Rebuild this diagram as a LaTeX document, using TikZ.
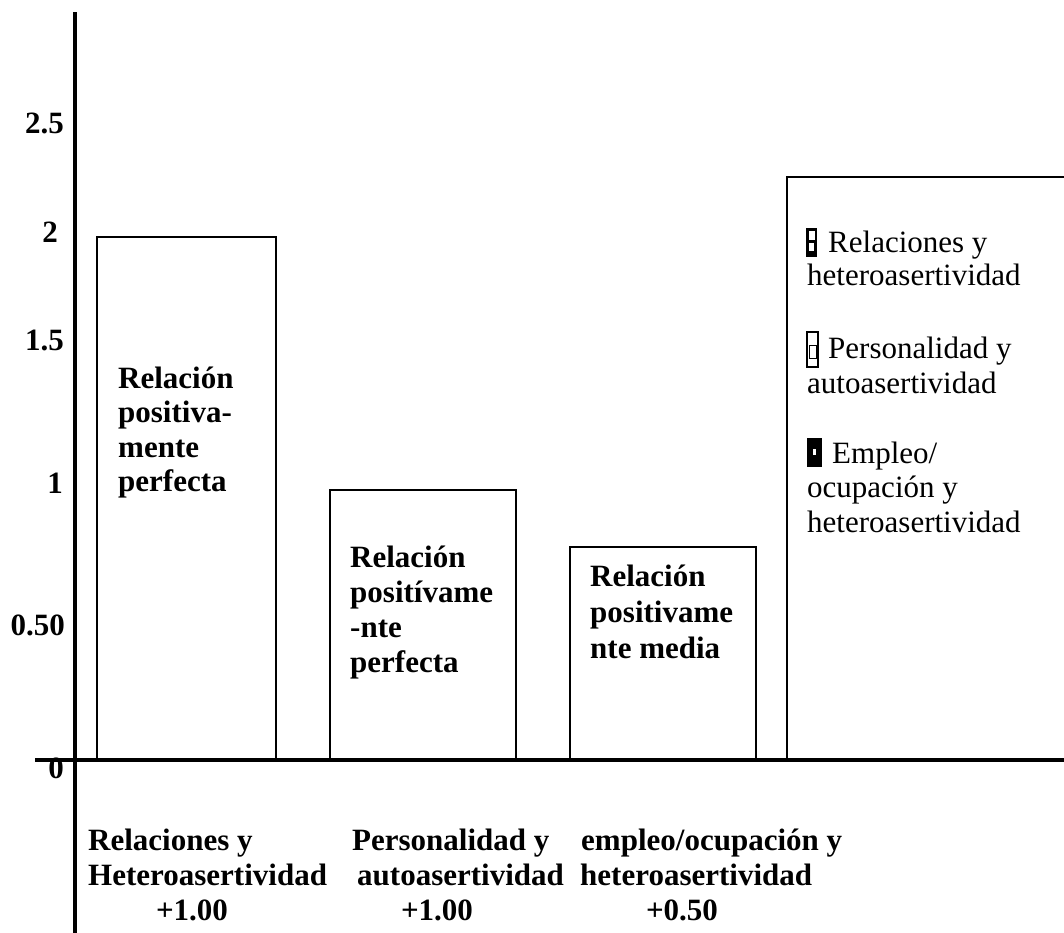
\documentclass[tikz,border=0pt]{standalone}
\usepackage{fontspec}
\setmainfont{Liberation Serif}
\tikzset{
  axisline/.style={draw=black, line width=3.2pt},
  barbox/.style={draw=black, line width=2.8pt},
  lbl/.style={font=\fontsize{31}{35}\selectfont\bfseries, inner sep=0pt, anchor=base west},
  leg/.style={font=\fontsize{31}{35}\selectfont, inner sep=0pt, anchor=base west},
  ticklbl/.style={font=\fontsize{31}{35}\selectfont\bfseries, inner sep=0pt, anchor=base east},
  midlbl/.style={font=\fontsize{31}{35}\selectfont\bfseries, inner sep=0pt, anchor=base},
}
\begin{document}
\begin{tikzpicture}[x=1pt,y=-1pt]
\useasboundingbox (0,0) rectangle (1064,932);
\fill[white] (0,0) rectangle (1064,932);

% bars
\draw[barbox] (97,760) -- (97,237) -- (276,237) -- (276,760);
\draw[barbox] (330,760) -- (330,490) -- (516,490) -- (516,760);
\draw[barbox] (570,760) -- (570,547) -- (756,547) -- (756,760);
\draw[barbox] (787,760) -- (787,177) -- (1066,177);

% axes
\coordinate (ytop) at (75,12);
\coordinate (ybot) at (75,934);
\coordinate (xleft) at (35,760);
\coordinate (xright) at (1066,760);
\draw[axisline] (ytop) -- (ybot);
\draw[axisline] (xleft) -- (xright);

% tick labels
\node[ticklbl] (t25) at (64,133) {2.5};
\node[ticklbl] (t2)  at (58,242) {2};
\node[ticklbl] (t15) at (64,350) {1.5};
\node[ticklbl] (t1)  at (63,493) {1};
\node[ticklbl] (t05) at (65,635) {0.50};
\node[ticklbl] (t0)  at (64,778) {0};

% bar texts
\foreach \t [count=\i from 0] in {Relación, positiva-, mente, perfecta}
  \node[lbl] (ba\i) at (118,{388+34.5*\i}) {\t};
\foreach \t [count=\i from 0] in {Relación, positívame, -nte, perfecta}
  \node[lbl] (bb\i) at (350,{567+35*\i}) {\t};
\foreach \t [count=\i from 0] in {Relación, positivame, nte media}
  \node[lbl] (bc\i) at (590,{586+36*\i}) {\t};

% legend markers
\fill[black] (806,228) rectangle (817,257);
\fill[white] (808.5,231) rectangle (814.5,240);
\fill[white] (809,243) rectangle (814,251);
\draw[line width=1.2pt] (807,332) rectangle (818,367);
\draw[line width=1pt] (809.5,345) rectangle (816,358);
\fill[black] (807,438) rectangle (822,467);
\fill[white] (812.5,449) rectangle (815.5,455);

% legend texts
\node[leg] (l1a) at (828,252) {Relaciones y};
\node[leg] (l1b) at (807,285) {heteroasertividad};
\node[leg] (l2a) at (828,358) {Personalidad y};
\node[leg] (l2b) at (807,393) {autoasertividad};
\node[leg] (l3a) at (832,463) {Empleo/};
\node[leg] (l3b) at (807,497) {ocupación y};
\node[leg] (l3c) at (807,532) {heteroasertividad};

% category labels
\node[lbl] (c1a) at (88,850) {Relaciones y};
\node[lbl] (c1b) at (88,885) {Heteroasertividad};
\node[midlbl] (c1c) at (192,920) {+1.00};
\node[lbl] (c2a) at (352,850) {Personalidad y};
\node[lbl] (c2b) at (357,885) {autoasertividad};
\node[midlbl] (c2c) at (437,920) {+1.00};
\node[lbl] (c3a) at (581,850) {empleo/ocupación y};
\node[lbl] (c3b) at (580,885) {heteroasertividad};
\node[midlbl] (c3c) at (682,920) {+0.50};
\end{tikzpicture}
\end{document}
